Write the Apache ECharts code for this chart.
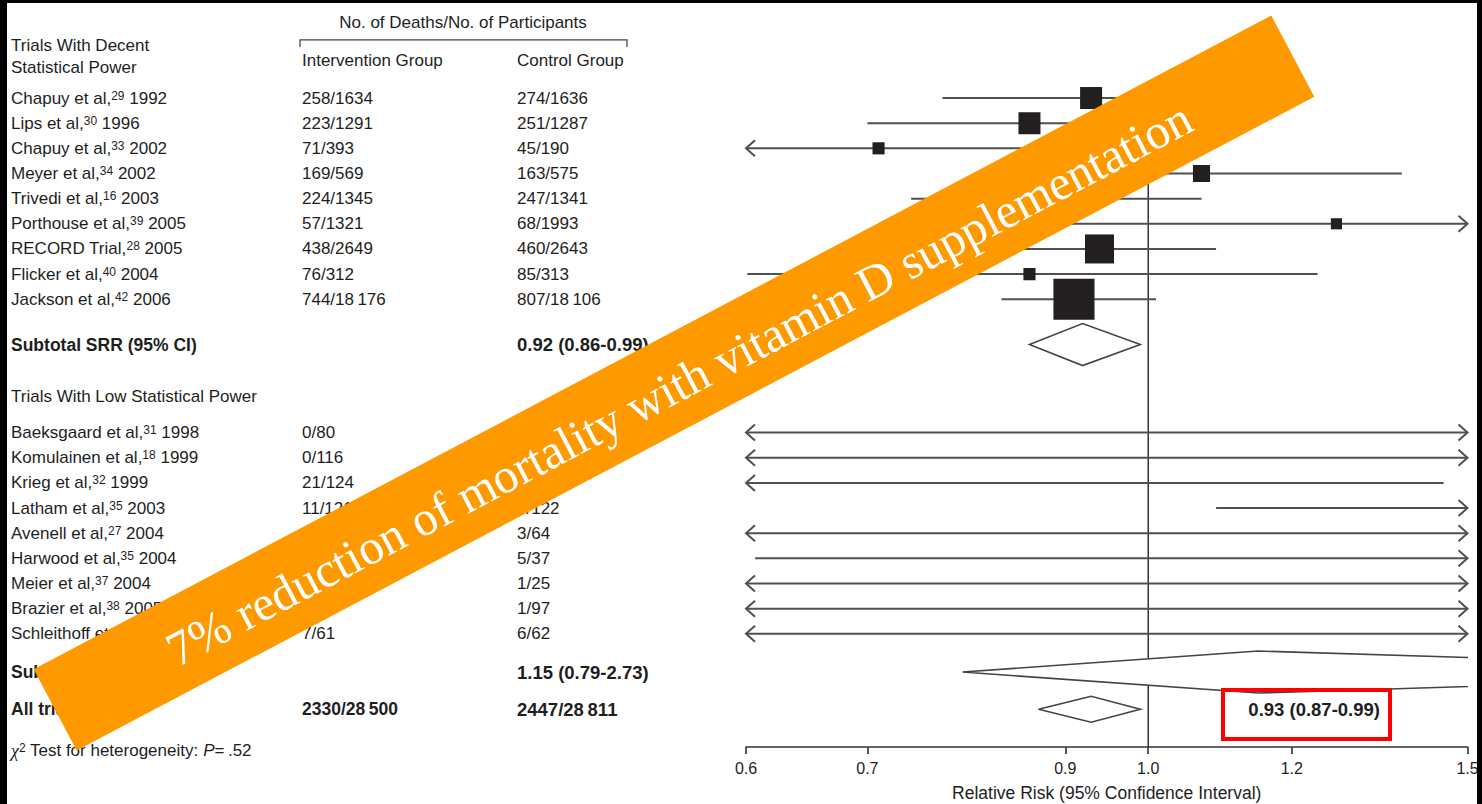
<!DOCTYPE html>
<html>
<head>
<meta charset="utf-8">
<script src="https://cdn.jsdelivr.net/npm/echarts@6/dist/echarts.min.js"></script>
<style>html,body{margin:0;padding:0;background:#fff}#c{width:1482px;height:804px}</style>
</head>
<body>
<div id="c"></div>
<script>
// ---------------- data ----------------
const decentNames   = ['Chapuy et al,', 'Lips et al,', 'Chapuy et al,', 'Meyer et al,', 'Trivedi et al,', 'Porthouse et al,', 'RECORD Trial,', 'Flicker et al,', 'Jackson et al,'];
const decentRefs    = ['29', '30', '33', '34', '16', '39', '28', '40', '42'];
const decentYears   = ['1992', '1996', '2002', '2002', '2003', '2005', '2005', '2004', '2006'];
const decentInterv  = ['258/1634', '223/1291', '71/393', '169/569', '224/1345', '57/1321', '438/2649', '76/312', '744/18\u2009176'];
const decentControl = ['274/1636', '251/1287', '45/190', '163/575', '247/1341', '68/1993', '460/2643', '85/313', '807/18\u2009106'];
const decentRR      = [0.93, 0.86, 0.71, 1.07, 0.89, 1.27, 0.94, 0.86, 0.91];
const decentLo      = [0.77, 0.70, 0.50, 0.83, 0.74, 0.90, 0.81, 0.601, 0.83];
const decentHi      = [1.12, 1.05, 1.02, 1.38, 1.07, 1.78, 1.09, 1.24, 1.01];
const decentWeight  = [8.6, 8.6, 2.6, 5.2, 7.0, 2.2, 15.0, 2.6, 30.0];

const lowNames   = ['Baeksgaard et al,', 'Komulainen et al,', 'Krieg et al,', 'Latham et al,', 'Avenell et al,', 'Harwood et al,', 'Meier et al,', 'Brazier et al,', 'Schleithoff et al,'];
const lowRefs    = ['31', '18', '32', '35', '27', '35', '37', '38', '41'];
const lowYears   = ['1998', '1999', '1999', '2003', '2004', '2004', '2004', '2005', '2006'];
const lowInterv  = ['0/80', '0/116', '21/124', '11/121', '2/70', '15/113', '0/30', '0/95', '7/61'];
const lowControl = ['1/80', '1/116', '24/124', '7/122', '3/64', '5/37', '1/25', '1/97', '6/62'];
const lowRR      = [0.33, 0.33, 0.88, 1.58, 0.61, 0.98, 0.28, 0.34, 1.19];
const lowLo      = [0.01, 0.01, 0.53, 1.09, 0.10, 0.607, 0.01, 0.01, 0.42];
const lowHi      = [8.2, 8.1, 1.455, 3.9, 3.5, 2.6, 6.6, 8.2, 3.3];

const subtotalDecent = [0.92, 0.86, 0.99];
const subtotalLow    = [1.15, 0.79, 2.73];
const allTrials      = [0.93, 0.87, 0.99];
const allInterv      = '2330/28\u2009500';
const allControl     = '2447/28\u2009811';

const xTicks = [0.6, 0.7, 0.9, 1.0, 1.2, 1.5];
const xMin = 0.6, xMax = 1.5;

const bannerText = '7% reduction of mortality with vitamin D supplementation';

// ---------------- layout (rows in row units) ----------------
const ROW = { title: -3.02, bracket: -2.31, bracketTick: -2.03, group: -1.51, head1: -2.1, head2: -1.23,
              decentStart: 0, sub1: 9.8, lowHead: 11.85, lowStart: 13.3, sub2: 22.82, all: 24.3, chi: 25.95 };
const Y_MIN = -3.897, Y_MAX = 25.80;
const COL = { name: 11, interv: 302, control: 517, titleCenter: 463, bracketL: 300, bracketR: 627, summaryRight: 1380 };
const FONT = "'Liberation Sans', Arial, Helvetica, sans-serif";
const SERIF = "'Liberation Serif', 'DejaVu Serif', 'Times New Roman', serif";
const TEXT = '#1e1e1e';
const FS = 17;

const fmt = v => v.toFixed(2);
const ciText = a => `${fmt(a[0])} (${fmt(a[1])}-${fmt(a[2])})`;
const nameRich = (n, r, y) => `{n|${n}}{s|${r}}{n| ${y}}`;

// table rows
const tableRows = [{ kind: 'header' }];
decentNames.forEach((n, i) => tableRows.push({ y: ROW.decentStart + i, name: nameRich(n, decentRefs[i], decentYears[i]), interv: decentInterv[i], control: decentControl[i] }));
tableRows.push({ y: ROW.sub1, name: 'Subtotal SRR (95% CI)', control: ciText(subtotalDecent), bold: true });
tableRows.push({ y: ROW.lowHead, name: 'Trials With Low Statistical Power' });
lowNames.forEach((n, i) => tableRows.push({ y: ROW.lowStart + i, name: nameRich(n, lowRefs[i], lowYears[i]), interv: lowInterv[i], control: lowControl[i] }));
tableRows.push({ y: ROW.sub2, name: 'Subtotal SRR (95% CI)', control: ciText(subtotalLow), bold: true });
tableRows.push({ y: ROW.all, name: 'All trials', interv: allInterv, control: allControl, bold: true, right: ciText(allTrials) });
tableRows.push({ y: ROW.chi, name: '{g|\u03c7}{s|2}{n| Test for heterogeneity: }{i|P}{n|=\u2009.52}' });

// forest rows
const forest = [];
decentNames.forEach((n, i) => forest.push({ y: ROW.decentStart + i, rr: decentRR[i], lo: decentLo[i], hi: decentHi[i], w: decentWeight[i] }));
lowNames.forEach((n, i) => forest.push({ y: ROW.lowStart + i, rr: lowRR[i], lo: lowLo[i], hi: lowHi[i], w: 0 }));

const diamonds = [
  { y: ROW.sub1, v: subtotalDecent, h: 21 },
  { y: ROW.sub2, v: subtotalLow, h: 21 },
  { y: ROW.all, v: allTrials, h: 13 }
];

const RICH = {
  n: { fontFamily: FONT, fontSize: FS, fill: TEXT, lineHeight: 17 },
  s: { fontFamily: FONT, fontSize: 12, fill: TEXT, lineHeight: 12, verticalAlign: 'top' },
  g: { fontFamily: SERIF, fontSize: 18, fill: TEXT, fontStyle: 'italic', lineHeight: 17 },
  i: { fontFamily: FONT, fontSize: FS, fill: TEXT, fontStyle: 'italic', lineHeight: 17 }
};

function renderTable(params, api) {
  const r = tableRows[params.dataIndex];
  const py = v => api.coord([0, v])[1];
  const ch = [];
  const txt = (x, y, text, opts) => ch.push({ type: 'text', x: x, y: y, style: Object.assign({ text: text, fontFamily: FONT, fontSize: FS, fill: TEXT, align: 'left', verticalAlign: 'middle', rich: RICH }, opts || {}) });
  if (r.kind === 'header') {
    txt(COL.titleCenter, py(ROW.title), 'No. of Deaths/No. of Participants', { align: 'center' });
    const by = py(ROW.bracket), bt = py(ROW.bracketTick);
    ch.push({ type: 'polyline', shape: { points: [[COL.bracketL, bt], [COL.bracketL, by], [COL.bracketR, by], [COL.bracketR, bt]] }, style: { stroke: '#444', lineWidth: 1.3, fill: null } });
    txt(COL.interv, py(ROW.group), 'Intervention Group');
    txt(COL.control, py(ROW.group), 'Control Group');
    txt(COL.name, py(ROW.head1), 'Trials With Decent');
    txt(COL.name, py(ROW.head2), 'Statistical Power');
  } else {
    const y = py(r.y);
    const o = r.bold ? { fontWeight: 'bold', fontSize: 17.5 } : {};
    if (r.name) txt(COL.name, y, r.name, o);
    if (r.interv) txt(COL.interv, y, r.interv, o);
    if (r.control) txt(COL.control, y, r.control, r.bold ? { fontWeight: 'bold', fontSize: 18.5 } : {});
    if (r.right) txt(COL.summaryRight, y, r.right, { align: 'right', fontWeight: 'bold', fontSize: 18.5 });
  }
  return { type: 'group', children: ch };
}

const LX = v => Math.log(v);
function renderForest(params, api) {
  const d = forest[params.dataIndex];
  const y = api.coord([0, d.y])[1];
  const x1 = api.coord([LX(Math.max(d.lo, xMin)), d.y])[0];
  const x2 = api.coord([LX(Math.min(d.hi, xMax)), d.y])[0];
  const st = { stroke: '#505050', lineWidth: 2, fill: null };
  const ch = [{ type: 'line', shape: { x1: x1, y1: y, x2: x2, y2: y }, style: st }];
  if (d.lo < xMin) ch.push({ type: 'polyline', shape: { points: [[x1 + 9, y - 8], [x1, y], [x1 + 9, y + 8]] }, style: st });
  if (d.hi > xMax) ch.push({ type: 'polyline', shape: { points: [[x2 - 9, y - 8], [x2, y], [x2 - 9, y + 8]] }, style: st });
  if (d.w > 0 && d.rr >= xMin && d.rr <= xMax) {
    const s = 7.5 * Math.sqrt(d.w);
    const xc = api.coord([LX(d.rr), d.y])[0];
    ch.push({ type: 'rect', shape: { x: xc - s / 2, y: y - s / 2, width: s, height: s }, style: { fill: '#231f20' } });
  }
  return { type: 'group', children: ch };
}

function renderDiamond(params, api) {
  const d = diamonds[params.dataIndex];
  const c = api.coord([LX(d.v[0]), d.y]);
  const l = api.coord([LX(d.v[1]), d.y]);
  const r = api.coord([LX(d.v[2]), d.y]);
  return { type: 'polygon', shape: { points: [[l[0], c[1]], [c[0], c[1] - d.h], [r[0], c[1]], [c[0], c[1] + d.h]] }, style: { fill: '#fff', stroke: '#444', lineWidth: 1.6 } };
}

function renderRef(params, api) {
  const a = api.coord([LX(1.0), -0.6]);
  const b = api.coord([LX(1.0), Y_MAX]);
  return { type: 'line', shape: { x1: a[0], y1: a[1], x2: b[0], y2: b[1] }, style: { stroke: '#333', lineWidth: 1.5 } };
}

const tickVals = xTicks.map(LX);
const chart = echarts.init(document.getElementById('c'), null, { renderer: 'svg' });
chart.setOption({
  animation: false,
  backgroundColor: '#fff',
  grid: { left: 746, right: 14.5, top: 0, bottom: 57, outerBoundsMode: 'none', containLabel: false },
  xAxis: {
    type: 'value', min: LX(xMin), max: LX(xMax), position: 'bottom',
    axisLine: { show: true, onZero: false, lineStyle: { color: '#333', width: 1.6 } },
    axisTick: { show: true, customValues: tickVals, length: 7, lineStyle: { color: '#333', width: 1.6 } },
    axisLabel: { customValues: tickVals, formatter: v => { let k = 0; tickVals.forEach((t, i) => { if (Math.abs(t - v) < Math.abs(tickVals[k] - v)) k = i; }); return xTicks[k].toFixed(1); }, fontFamily: FONT, fontSize: 16, color: TEXT, margin: 13 },
    splitLine: { show: false },
    name: 'Relative Risk (95% Confidence Interval)', nameLocation: 'middle', nameGap: 37,
    nameTextStyle: { fontFamily: FONT, fontSize: 17.5, color: TEXT }
  },
  yAxis: { type: 'value', min: Y_MIN, max: Y_MAX, inverse: true, show: false },
  series: [
    { type: 'custom', name: 'ref', renderItem: renderRef, data: [[0, 0]], clip: false, z: 1, silent: true },
    { type: 'custom', name: 'forest', renderItem: renderForest, data: forest.map(d => [LX(d.rr), d.y]), clip: false, z: 3, silent: true },
    { type: 'custom', name: 'diamonds', renderItem: renderDiamond, data: diamonds.map(d => [LX(d.v[0]), d.y]), clip: true, z: 3, silent: true },
    { type: 'custom', name: 'table', renderItem: renderTable, data: tableRows.map((r, i) => [0, r.y == null ? 0 : r.y]), clip: false, z: 4, silent: true }
  ],
  graphic: [
    { type: 'group', x: 674, y: 383, rotation: 27.85 * Math.PI / 180, z: 100, silent: true, children: [
      { type: 'rect', z: 100, shape: { x: -700, y: -46, width: 1400, height: 92 }, style: { fill: '#FF9900' } },
      { type: 'text', z: 101, x: 4, y: 3, style: { text: bannerText, align: 'center', verticalAlign: 'middle', fill: '#fff', fontFamily: SERIF, fontSize: 49 } }
    ] },
    { type: 'rect', z: 100, silent: true, shape: { x: 1223, y: 690, width: 167, height: 49 }, style: { fill: null, stroke: '#ff0000', lineWidth: 4 } },
    { type: 'rect', z: 110, silent: true, shape: { x: 0, y: 0, width: 7, height: 804 }, style: { fill: '#000' } },
    { type: 'rect', z: 110, silent: true, shape: { x: 0, y: 0, width: 1482, height: 3 }, style: { fill: '#000' } },
    { type: 'rect', z: 110, silent: true, shape: { x: 1477, y: 0, width: 5, height: 804 }, style: { fill: '#000' } }
  ]
});
</script>
</body>
</html>
